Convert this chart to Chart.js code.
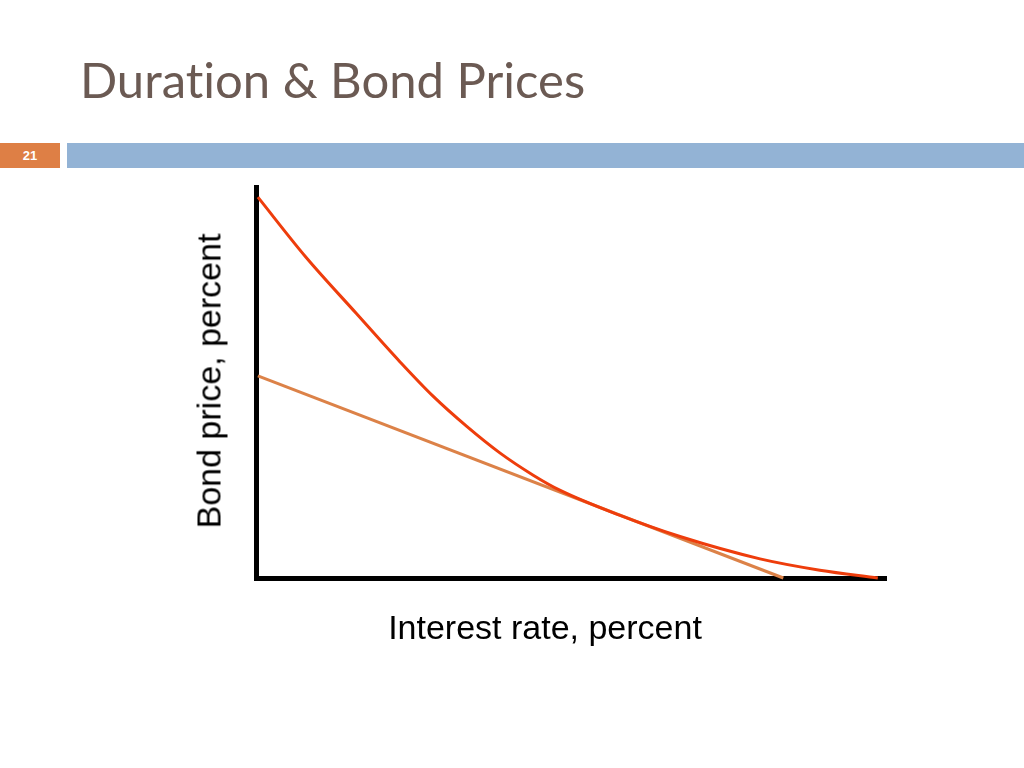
<!DOCTYPE html>
<html>
<head>
<meta charset="utf-8">
<script src="https://cdn.jsdelivr.net/npm/chart.js@4"></script>
<style>
  html, body { margin: 0; padding: 0; background: #fff; }
  body { width: 1024px; height: 768px; position: relative; overflow: hidden; }
  #title { position: absolute; left: 80px; top: 50px; font-family: Lato, "Open Sans", sans-serif;
           font-size: 49px; color: #6b5a53; white-space: nowrap; font-variant-ligatures: none; }
  #num { position: absolute; left: 0; top: 143px; width: 60px; height: 25px; background: #de7f45;
         color: #fff; font: bold 13px "Liberation Sans", Arial, sans-serif; text-align: center; line-height: 25px; }
  #bar { position: absolute; left: 67px; top: 143px; right: 0; height: 25px; background: #93b3d5; }
  #chartBox { position: absolute; left: 0; top: 0; width: 1024px; height: 768px; }
  .axlabel { position: absolute; font-family: "Liberation Sans", Arial, sans-serif; font-size: 34px;
             color: #000; white-space: nowrap; }
  #xlab { left: 545px; top: 627px; transform: translate(-50%, -50%); }
  #ylab { left: 209px; top: 381px; transform: translate(-50%, -50%) rotate(-90deg); }
</style>
</head>
<body>
<div id="title">Duration &amp; Bond Prices</div>
<div id="num">21</div>
<div id="bar"></div>
<div id="chartBox"><canvas id="chart" width="1024" height="768"></canvas></div>
<div class="axlabel" id="xlab">Interest rate, percent</div>
<div class="axlabel" id="ylab">Bond price, percent</div>
<script>
// price curve (convex)
const priceX = [0.03, 0.79, 1.59, 2.29, 2.81, 3.35, 3.87, 4.40, 4.83, 5.78, 6.73, 8.00, 8.95, 9.87];
const priceY = [9.74, 8.21, 6.77, 5.52, 4.65, 3.87, 3.20, 2.63, 2.24, 1.60, 1.06, 0.49, 0.20, 0.00];

// duration tangent line
const tangentX = [0.03, 8.37];
const tangentY = [5.17, 0.00];

const xLabel = 'Interest rate, percent';
const yLabel = 'Bond price, percent';

function toPoints(xs, ys) {
    return xs.map((x, i) => ({ x: x, y: ys[i] }));
}

const ctx = document.getElementById('chart').getContext('2d');
new Chart(ctx, {
    type: 'line',
    data: {
        datasets: [
            {
                label: 'Bond price',
                data: toPoints(priceX, priceY),
                borderColor: '#ee3d0c',
                borderWidth: 3,
                pointRadius: 0,
                cubicInterpolationMode: 'monotone',
                clip: false
            },
            {
                label: 'Duration',
                data: toPoints(tangentX, tangentY),
                borderColor: '#dc8248',
                borderWidth: 3,
                pointRadius: 0,
                clip: false
            }
        ]
    },
    options: {
        responsive: false,
        animation: false,
        layout: { padding: { left: 248, right: 138, top: 187, bottom: 182 } },
        plugins: {
            legend: { display: false },
            tooltip: { enabled: false }
        },
        scales: {
            x: {
                type: 'linear',
                min: 0,
                max: 10,
                ticks: { display: false },
                grid: { display: false },
                border: { display: true, color: '#000', width: 5 },
                title: { display: false, text: xLabel }
            },
            y: {
                type: 'linear',
                min: 0,
                max: 10,
                ticks: { display: false },
                grid: { display: false },
                border: { display: true, color: '#000', width: 5 },
                title: { display: false, text: yLabel }
            }
        }
    }
});
</script>
</body>
</html>
